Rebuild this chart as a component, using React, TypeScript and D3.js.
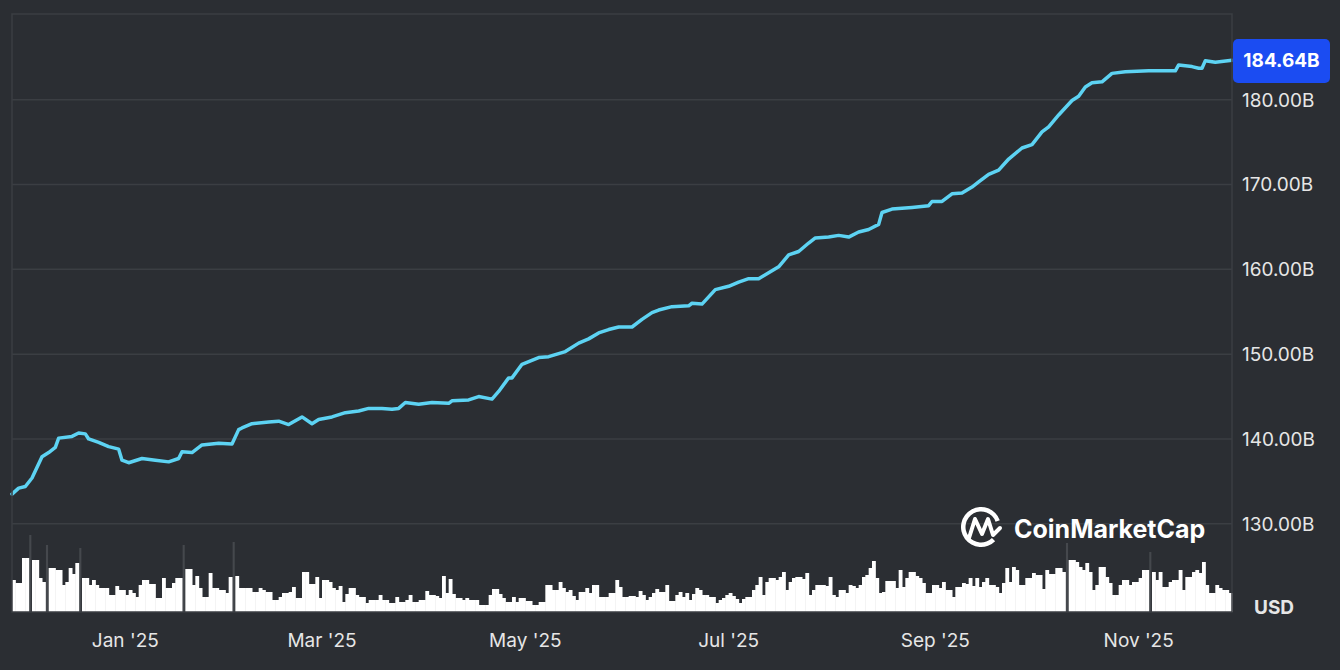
import React from "react";
import * as d3 from "d3";

const W = 1340;
const H = 670;

// Market cap line (billions USD)
const lineDates = [
  "2024-11-28","2024-11-30","2024-12-02","2024-12-04","2024-12-07","2024-12-09","2024-12-11","2024-12-12",
  "2024-12-16","2024-12-18","2024-12-20","2024-12-21","2024-12-24","2024-12-27","2024-12-30","2024-12-31",
  "2025-01-02","2025-01-06","2025-01-10","2025-01-14","2025-01-17","2025-01-18","2025-01-21","2025-01-24",
  "2025-01-29","2025-02-02","2025-02-04","2025-02-05","2025-02-08","2025-02-13","2025-02-16","2025-02-19",
  "2025-02-23","2025-02-26","2025-02-28","2025-03-04","2025-03-08","2025-03-12","2025-03-15","2025-03-19",
  "2025-03-22","2025-03-24","2025-03-26","2025-03-30","2025-04-03","2025-04-08","2025-04-09","2025-04-14",
  "2025-04-17","2025-04-21","2025-04-23","2025-04-26","2025-04-27","2025-04-30","2025-05-05","2025-05-08",
  "2025-05-13","2025-05-17","2025-05-20","2025-05-23","2025-05-26","2025-05-29","2025-06-02","2025-06-05",
  "2025-06-08","2025-06-10","2025-06-14","2025-06-19","2025-06-20","2025-06-23","2025-06-27","2025-07-01",
  "2025-07-04","2025-07-07","2025-07-10","2025-07-13","2025-07-16","2025-07-19","2025-07-22","2025-07-25",
  "2025-07-27","2025-07-31","2025-08-03","2025-08-06","2025-08-09","2025-08-12","2025-08-15","2025-08-16",
  "2025-08-19","2025-08-25","2025-08-30","2025-08-31","2025-09-03","2025-09-06","2025-09-09","2025-09-12",
  "2025-09-14","2025-09-17","2025-09-20","2025-09-23","2025-09-27","2025-09-30","2025-10-03","2025-10-05",
  "2025-10-08","2025-10-12","2025-10-14","2025-10-16","2025-10-18","2025-10-21","2025-10-24","2025-10-28",
  "2025-11-04","2025-11-08","2025-11-12","2025-11-13","2025-11-17","2025-11-19","2025-11-20","2025-11-21",
  "2025-11-24","2025-11-29"
];
const lineValues = [
  133.5,134.2,134.4,135.4,137.9,138.4,139.0,140.1,
  140.3,140.7,140.6,140.0,139.6,139.1,138.8,137.5,
  137.2,137.7,137.5,137.3,137.7,138.5,138.4,139.3,
  139.5,139.4,141.1,141.3,141.8,142.0,142.1,141.7,
  142.6,141.8,142.3,142.6,143.1,143.3,143.6,143.6,
  143.5,143.6,144.3,144.1,144.3,144.2,144.5,144.6,
  145.0,144.7,145.6,147.2,147.2,148.8,149.6,149.7,
  150.3,151.3,151.8,152.5,152.9,153.2,153.2,154.1,
  154.9,155.2,155.6,155.7,156.0,155.9,157.6,158.0,
  158.5,158.9,158.9,159.6,160.3,161.7,162.1,163.1,
  163.7,163.8,164.0,163.8,164.4,164.7,165.3,166.7,
  167.1,167.3,167.5,168.0,168.0,168.9,169.0,169.7,
  170.3,171.2,171.7,173.0,174.3,174.7,176.2,176.8,
  178.2,179.9,180.4,181.5,182.0,182.1,183.1,183.3,
  183.4,183.4,183.4,184.1,183.9,183.7,183.7,184.6,
  184.4,184.64
];

// Daily volume, starting at volumeStart (relative units)
const volumeStart = "2024-11-28";
const volumeValues = [
  32,29,29,54,54,77,52,52,34,30,
  67,44,44,42,42,27,30,44,38,49,
  64,34,34,27,32,27,24,24,24,17,
  17,26,22,22,17,22,19,15,27,32,
  32,28,28,14,14,34,24,24,29,34,
  34,67,43,43,27,36,24,15,15,39,
  24,24,22,22,19,35,70,36,24,24,
  24,24,20,20,24,22,20,20,12,12,
  15,19,19,20,25,14,14,40,40,28,
  28,35,14,32,32,30,24,22,26,10,
  18,24,24,17,15,15,9,12,12,12,
  17,12,12,9,9,15,10,10,12,17,
  10,10,12,12,21,17,17,16,14,36,
  19,33,18,14,14,12,14,12,12,12,
  7,7,7,17,23,23,18,14,10,10,
  15,10,14,14,11,11,7,7,10,10,
  27,27,22,22,30,24,20,22,16,12,
  20,20,24,19,27,27,15,15,15,19,
  19,32,25,15,15,16,16,15,21,17,
  12,15,19,23,20,20,27,11,11,17,
  20,15,19,12,18,24,22,17,17,15,
  15,9,12,14,17,19,16,13,9,13,
  15,15,22,27,35,17,30,34,34,32,
  35,40,22,30,34,35,35,33,39,17,
  22,27,27,27,26,35,17,15,22,22,
  19,27,26,24,27,35,37,44,51,34,
  19,20,31,31,31,24,42,25,34,40,
  40,36,34,29,19,19,27,27,24,30,
  22,22,15,25,25,29,28,34,26,34,
  25,30,34,27,27,25,19,29,44,30,
  45,42,27,27,34,34,39,37,37,23,
  42,38,38,44,44,40,69,52,52,50,
  45,42,49,40,22,27,45,45,35,29,
  17,17,27,32,32,27,30,30,34,42,
  42,60,40,32,40,25,25,30,32,32,
  42,22,35,35,40,42,39,50,27,19,
  19,27,24,22,22,19
];
// Days whose volume bar is drawn in grey
const greyBarDates = ["2024-12-03","2024-12-08","2024-12-18","2025-01-18","2025-02-02","2025-10-10","2025-11-04"];

const yTicks = [130, 140, 150, 160, 170, 180];
const xTickDates = ["2025-01-01","2025-03-01","2025-05-01","2025-07-01","2025-09-01","2025-11-01"];
const xDomain = ["2024-11-28", "2025-11-29"];
const yDomain = [119.6, 190.1];
const lastValue = 184.64;

const BG = "#2b2e33";
const GRID = "#3b3e43";
const LINE = "#5dd3f3";
const TEXT = "#e6e6e6";
const FONT = "Inter, 'Noto Sans', 'DejaVu Sans', sans-serif";

export default function App() {
  const parse = d3.timeParse("%Y-%m-%d");
  const left = 12, right = 1232, top = 14, bottom = 612;

  const x = d3.scaleTime().domain(xDomain.map((s) => parse(s)!)).range([left, right]);
  const y = d3.scaleLinear().domain(yDomain).range([bottom, top]);
  const yV = d3.scaleLinear().domain([0, 100]).range([bottom, bottom - 100]);

  const lineData = lineDates.map((d, i) => ({ date: parse(d)!, value: lineValues[i] }));
  const linePath = d3.line<{ date: Date; value: number }>()
    .x((d) => x(d.date))
    .y((d) => y(d.value))
    .curve(d3.curveLinear)(lineData) || "";

  const start = parse(volumeStart)!;
  const greySet = new Set(greyBarDates);
  const fmtDay = d3.timeFormat("%Y-%m-%d");
  const bars = volumeValues.map((v, i) => {
    const d0 = d3.timeDay.offset(start, i);
    const d1 = d3.timeDay.offset(start, i + 1);
    return { d0, d1, v, grey: greySet.has(fmtDay(d0)) };
  });
  const tickFmt = d3.timeFormat("%b '%y");

  // logo arc
  const ringArc = d3.arc()({
    innerRadius: 15.5,
    outerRadius: 20,
    startAngle: (135 * Math.PI) / 180,
    endAngle: (430 * Math.PI) / 180,
  } as any) || "";

  return (
    <svg width={W} height={H} style={{ position: "absolute", left: 0, top: 0, display: "block" }} fontFamily={FONT}>
      <rect x={0} y={0} width={W} height={H} fill={BG} />
      {yTicks.map((t) => (
        <line key={t} x1={left} x2={right} y1={y(t)} y2={y(t)} stroke={GRID} strokeWidth={1.5} />
      ))}
      {bars.filter((b) => b.grey).map((b, i) => (
        <rect key={"g" + i} x={x(b.d0) + 0.6} width={Math.max(1, x(b.d1) - x(b.d0) - 1.2)} y={yV(b.v)} height={bottom - yV(b.v)} fill="#45484d" />
      ))}
      {bars.filter((b) => !b.grey).map((b, i) => (
        <rect key={"b" + i} x={x(b.d0)} width={x(b.d1) - x(b.d0) + 0.5} y={yV(b.v)} height={bottom - yV(b.v)} fill="#ffffff" />
      ))}
      <path d={linePath} fill="none" stroke={LINE} strokeWidth={3.5} strokeLinejoin="round" strokeLinecap="round" />
      <rect x={left} y={top} width={right - left} height={bottom - top} fill="none" stroke={GRID} strokeWidth={1.5} />
      {yTicks.map((t) => (
        <text key={t} x={1242} y={y(t)} dy="0.36em" fill={TEXT} fontSize={19}>
          {t.toFixed(2) + "B"}
        </text>
      ))}
      <text x={1254} y={607} dy="0.36em" fill={TEXT} fontSize={19} fontWeight={700}>USD</text>
      {xTickDates.map((s) => {
        const d = parse(s)!;
        return (
          <text key={s} x={x(d)} y={640} dy="0.36em" textAnchor="middle" fill={TEXT} fontSize={19}>
            {tickFmt(d)}
          </text>
        );
      })}
      <rect x={1233} y={39} width={97} height={44} rx={5} fill="#1b4cf2" />
      <text x={1281.5} y={y(lastValue)} dy="0.36em" textAnchor="middle" fill="#ffffff" fontSize={19} fontWeight={700}>
        {lastValue.toFixed(2) + "B"}
      </text>
      <g transform="translate(981,527)">
        <path d={ringArc} fill="#ffffff" />
        <path d="M -12 11 L -6 -8 L 1 7 L 7 -8 L 12 8 L 19 1" fill="none" stroke="#ffffff" strokeWidth={4} strokeLinejoin="round" strokeLinecap="round" />
      </g>
      <text x={1014} y={538} fill="#ffffff" fontSize={25} fontWeight={700}>CoinMarketCap</text>
    </svg>
  );
}
